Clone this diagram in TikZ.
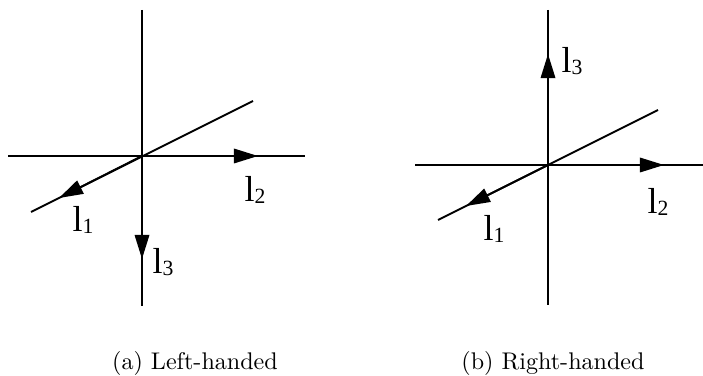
\documentclass[tikz,border=0pt]{standalone}
\usepackage{fontspec}
\newfontfamily\vecfont{Liberation Serif}
\usepackage{tikz}
\usetikzlibrary{
  arrows.meta,
  positioning,
  calc
}
\newcommand{\veclab}[1]{{\vecfont\fontsize{15}{17}\selectfont l\raisebox{-0.8pt}{\fontsize{9}{10}\selectfont #1}}}
\tikzset{
  axisline/.style={
    line width=0.8pt,
    black
  },
  axisarrow/.style={
    -{Triangle[length=10pt,width=6pt]},
    line width=0.8pt,
    black
  },
  veclabel/.style={inner sep=0pt},
  subcap/.style={inner sep=0pt, font=\normalsize}
}

\begin{document}
\begin{tikzpicture}[x=0.01458cm, y=-0.01458cm]
  \useasboundingbox (0,0) rectangle (703,376);

  % (a) left-handed frame
  \coordinate (oA) at (142,156);
  \coordinate (topA) at (142,10);
  \coordinate (botA) at (142,306);
  \coordinate (leftA) at (8,156);
  \coordinate (rightA) at (305,156);
  \coordinate (dlowA) at (31,212);
  \coordinate (dhighA) at (253,101);
  \coordinate (tipOneA) at (59,198);
  \coordinate (tipTwoA) at (258,156);
  \coordinate (tipThreeA) at (142,259);
  \draw[axisline] (topA) -- (botA);
  \draw[axisline] (leftA) -- (rightA);
  \draw[axisline] (dlowA) -- (dhighA);
  \draw[axisarrow] (oA) -- (tipOneA);
  \draw[axisarrow] (oA) -- (tipTwoA);
  \draw[axisarrow] (oA) -- (tipThreeA);
  \node[veclabel] (lOneA) at (83,220) {\veclab{1}};
  \node[veclabel] (lTwoA) at (255,190) {\veclab{2}};
  \node[veclabel] (lThreeA) at (163,262) {\veclab{3}};

  % (b) right-handed frame
  \coordinate (oB) at (548,165);
  \coordinate (topB) at (548,10);
  \coordinate (botB) at (548,305);
  \coordinate (leftB) at (415,165);
  \coordinate (rightB) at (703,165);
  \coordinate (dlowB) at (438,220);
  \coordinate (dhighB) at (658,110);
  \coordinate (tipOneB) at (466,206);
  \coordinate (tipTwoB) at (664,165);
  \coordinate (tipThreeB) at (548,54);
  \draw[axisline] (topB) -- (botB);
  \draw[axisline] (leftB) -- (rightB);
  \draw[axisline] (dlowB) -- (dhighB);
  \draw[axisarrow] (oB) -- (tipOneB);
  \draw[axisarrow] (oB) -- (tipTwoB);
  \draw[axisarrow] (oB) -- (tipThreeB);
  \node[veclabel] (lOneB) at (494,229) {\veclab{1}};
  \node[veclabel] (lTwoB) at (658,202) {\veclab{2}};
  \node[veclabel] (lThreeB) at (572,61) {\veclab{3}};

  % captions
  \node[subcap] (capA) at (195,363) {(a) Left-handed};
  \node[subcap] (capB) at (553,363) {(b) Right-handed};
\end{tikzpicture}
\end{document}
